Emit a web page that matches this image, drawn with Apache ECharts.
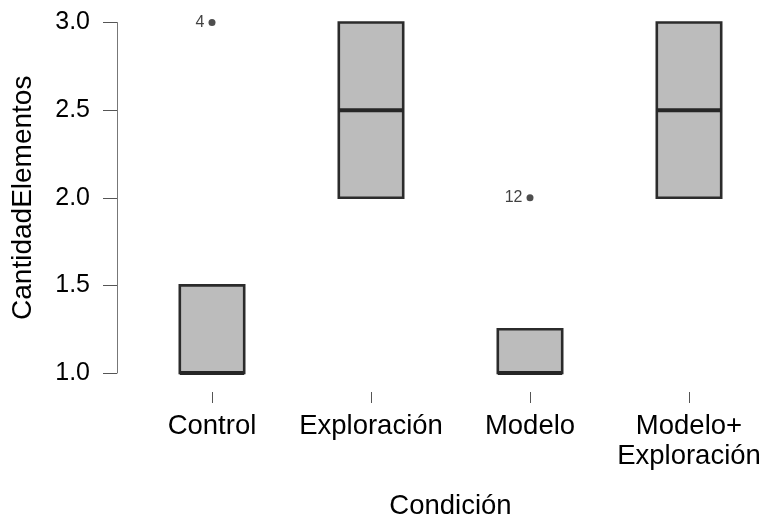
<!DOCTYPE html>
<html>
<head>
<meta charset="utf-8">
<script src="https://cdn.jsdelivr.net/npm/echarts@6/dist/echarts.min.js"></script>
<style>
  html, body { margin: 0; padding: 0; background: #fff; }
  #chart { width: 765px; height: 519px; }
</style>
</head>
<body>
<div id="chart"></div>
<script>
// Conditions on the x axis
const categories = ['Control', 'Exploración', 'Modelo', 'Modelo+\nExploración'];
// Five-number summaries per condition: [min, Q1, median, Q3, max]
const boxStats = [
  [1, 1, 1, 1.5, 1.5],
  [2, 2, 2.5, 3, 3],
  [1, 1, 1, 1.25, 1.25],
  [2, 2, 2.5, 3, 3]
];
// Outlying observations: condition index, value, case label
const outlierCat = [0, 2];
const outlierVal = [3, 2];
const outlierTag = ['4', '12'];
// Value ticks
const yTicks = [1.0, 1.5, 2.0, 2.5, 3.0];

const FONT = 'Liberation Sans';

const boxData = boxStats.map((s, i) => [i].concat(s));
const outlierData = outlierCat.map((c, i) => [c, outlierVal[i], outlierTag[i]]);

const chart = echarts.init(document.getElementById('chart'), null, { renderer: 'canvas' });

chart.setOption({
  animation: false,
  backgroundColor: '#ffffff',
  grid: { left: 132.5, top: 22.5, width: 636, bottom: 146, outerBoundsMode: 'none', containLabel: false },
  xAxis: {
    type: 'category',
    data: categories,
    boundaryGap: true,
    offset: 19,
    axisLine: { show: false },
    axisTick: { show: true, alignWithLabel: true, length: 11, lineStyle: { color: '#555', width: 1 } },
    axisLabel: { color: '#000', fontFamily: FONT, fontSize: 27.5, margin: 19, lineHeight: 30, interval: 0 },
    name: 'Condición',
    nameLocation: 'middle',
    nameGap: 100,
    nameTextStyle: { color: '#000', fontFamily: FONT, fontSize: 27.5 },
    splitLine: { show: false }
  },
  yAxis: {
    type: 'value',
    min: 1.0,
    max: 3.0,
    interval: 0.5,
    offset: 15.5,
    axisLine: { show: true, lineStyle: { color: '#777', width: 1 } },
    axisTick: { show: true, length: 14, lineStyle: { color: '#555', width: 1 } },
    axisLabel: {
      color: '#000', fontFamily: FONT, fontSize: 25, margin: 27,
      formatter: v => yTicks.includes(v) ? v.toFixed(1) : ''
    },
    splitLine: { show: false },
    name: 'CantidadElementos',
    nameLocation: 'middle',
    nameGap: 80,
    nameTextStyle: { color: '#000', fontFamily: FONT, fontSize: 28 }
  },
  series: [
    {
      type: 'custom',
      data: boxData,
      encode: { x: 0, y: [1, 2, 3, 4, 5] },
      renderItem: function (params, api) {
        const idx = api.value(0);
        const pMin = api.coord([idx, api.value(1)]);
        const pQ1 = api.coord([idx, api.value(2)]);
        const pMed = api.coord([idx, api.value(3)]);
        const pQ3 = api.coord([idx, api.value(4)]);
        const pMax = api.coord([idx, api.value(5)]);
        const band = api.size([1, 0])[0];
        const w = band * 0.405;
        const x0 = pQ1[0] - w / 2;
        const children = [];
        // whiskers (only drawn when they extend beyond the box)
        if (pMax[1] < pQ3[1] - 0.5) {
          children.push({ type: 'line', shape: { x1: pQ3[0], y1: pQ3[1], x2: pMax[0], y2: pMax[1] }, style: { stroke: '#2b2b2b', lineWidth: 2 } });
        }
        if (pMin[1] > pQ1[1] + 0.5) {
          children.push({ type: 'line', shape: { x1: pQ1[0], y1: pQ1[1], x2: pMin[0], y2: pMin[1] }, style: { stroke: '#2b2b2b', lineWidth: 2 } });
        }
        children.push({
          type: 'rect',
          shape: { x: x0, y: pQ3[1], width: w, height: pQ1[1] - pQ3[1] },
          style: { fill: '#bcbcbc', stroke: '#2b2b2b', lineWidth: 2.6 }
        });
        children.push({
          type: 'line',
          shape: { x1: x0, y1: pMed[1], x2: x0 + w, y2: pMed[1] },
          style: { stroke: '#262626', lineWidth: 4 }
        });
        return { type: 'group', children: children };
      },
      z: 2
    },
    {
      type: 'scatter',
      data: outlierData,
      symbol: 'circle',
      symbolSize: 7,
      itemStyle: { color: '#222' },
      label: {
        show: true,
        position: 'left',
        distance: 4,
        formatter: p => p.data[2],
        color: '#111',
        fontFamily: FONT,
        fontSize: 16
      },
      z: 3
    }
  ]
});
</script>
</body>
</html>
